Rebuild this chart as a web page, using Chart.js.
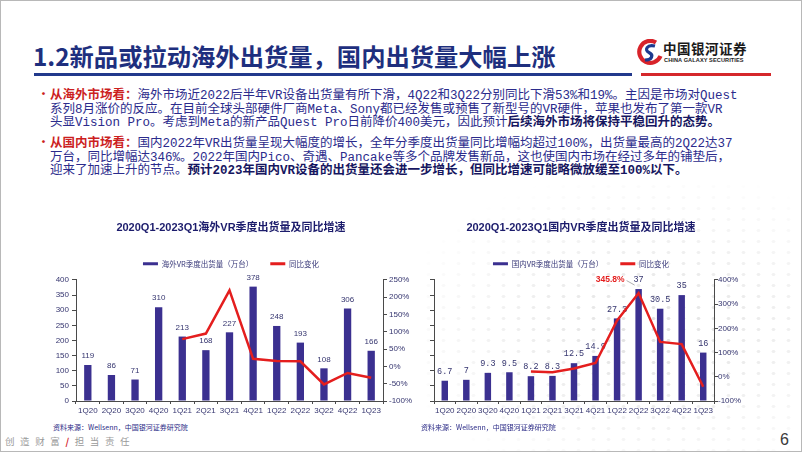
<!DOCTYPE html>
<html>
<head>
<meta charset="utf-8">
<script src="https://cdn.jsdelivr.net/npm/chart.js@4.4.0/dist/chart.umd.min.js"></script>
<style>
  html, body { margin: 0; padding: 0; background: #fff; }
  #slide {
    position: relative; width: 802px; height: 452px; box-sizing: border-box;
    border: 1px solid #b8b8b8; overflow: hidden; background: #fff;
    font-family: "Noto Sans CJK SC", "Noto Sans", sans-serif;
  }
  .abs { position: absolute; }
  #title { left: 32px; top: 41px; font-size: 24.3px; line-height: 27px; font-weight: 700; color: #1e2f7e; white-space: nowrap; }
  #rule-blue { left: 33px; top: 72px; width: 598px; height: 3px; background: #22398c; }
  #rule-red { left: 640px; top: 72px; width: 130px; height: 3px; background: #d5282b; }
  #logo-cn { left: 662px; top: 39px; font-size: 13.5px; line-height: 16px; font-weight: 700; color: #1a1a1a; letter-spacing: 0.5px; }
  #logo-en { left: 663px; top: 56px; font-family: "Liberation Sans", sans-serif; font-size: 5.6px; font-weight: 700; color: #1a1a1a; letter-spacing: 0.1px; }
  .para { left: 49px; font-family: "Liberation Mono", "Noto Sans CJK SC", monospace; font-size: 12.5px; line-height: 13.5px; color: #2b2b8c; white-space: nowrap; }
  .para b { color: #161660; }
  .para .lead { color: #cc1f1f; font-weight: 700; font-family: "Noto Sans CJK SC", sans-serif; }
  .dot { left: 37px; color: #cc1f1f; font-size: 11px; line-height: 13.5px; font-weight: 700; }
  .src { font-size: 7px; line-height: 9px; color: #2a2a86; white-space: nowrap; }
  #footer { left: 4px; top: 434px; font-size: 9.5px; line-height: 12px; color: #9a9a9a; letter-spacing: 5.6px; white-space: nowrap; }
  #footer i { color: #d3222a; font-style: normal; font-weight: 700; }
  #page { left: 779px; top: 430px; font-family: "Liberation Sans", sans-serif; font-size: 16px; color: #3a3a3a; }
  #dots {
    left: 420px; top: 180px; width: 382px; height: 272px;
    background-image: radial-gradient(ellipse 3px 2px at center, #d8d8d8 55%, transparent 75%);
    background-size: 15px 11px;
    -webkit-mask-image: radial-gradient(ellipse 70% 60% at 60% 55%, rgba(0,0,0,0.8), rgba(0,0,0,0) 100%);
    mask-image: radial-gradient(ellipse 70% 60% at 60% 55%, rgba(0,0,0,0.8), rgba(0,0,0,0) 100%);
  }
  canvas { position: absolute; }
</style>
</head>
<body>
<div id="slide">
  <div id="dots" class="abs"></div>

  <div id="title" class="abs">1.2新品或拉动海外出货量，国内出货量大幅上涨</div>
  <div id="rule-blue" class="abs"></div>
  <div id="rule-red" class="abs"></div>
  <svg class="abs" style="left:636px;top:38px" width="26" height="27" viewBox="0 0 26 27">
    <path d="M19 3.5 A11 11 0 1 0 23.5 17" fill="none" stroke="#d8232a" stroke-width="4.2"/>
    <path d="M18 7 C10 5 7 11 12 13.5 C17 16 15 21 8 21" fill="none" stroke="#1d3a8f" stroke-width="3.2"/>
  </svg>
  <div id="logo-cn" class="abs">中国银河证券</div>
  <div id="logo-en" class="abs">CHINA GALAXY SECURITIES</div>

  <div class="abs dot" style="top:86px">•</div>
  <div class="abs para" style="top:86px">
    <span class="lead">从海外市场看：</span>海外市场近2022后半年VR设备出货量有所下滑，4Q22和3Q22分别同比下滑53%和19%。主因是市场对Quest<br>
    系列8月涨价的反应。在目前全球头部硬件厂商Meta、Sony都已经发售或预售了新型号的VR硬件，苹果也发布了第一款VR<br>
    头显Vision Pro。考虑到Meta的新产品Quest Pro日前降价400美元，因此预计<b>后续海外市场将保持平稳回升的态势。</b>
  </div>
  <div class="abs dot" style="top:134px">•</div>
  <div class="abs para" style="top:134px">
    <span class="lead">从国内市场看：</span>国内2022年VR出货量呈现大幅度的增长，全年分季度出货量同比增幅均超过100%，出货量最高的2Q22达37<br>
    万台，同比增幅达346%。2022年国内Pico、奇遇、Pancake等多个品牌发售新品，这也使国内市场在经过多年的铺垫后，<br>
    迎来了加速上升的节点。<b>预计2023年国内VR设备的出货量还会进一步增长，但同比增速可能略微放缓至100%以下。</b>
  </div>

  <canvas id="overseas" width="410" height="209" style="left:25px;top:210px"></canvas>
  <canvas id="domestic" width="360" height="209" style="left:400px;top:210px"></canvas>

  <div class="abs src" style="left:52px;top:422px">资料来源：Wellsenn，中国银河证券研究院</div>
  <div class="abs src" style="left:420px;top:422px">资料来源：Wellsenn，中国银河证券研究院</div>

  <div id="footer" class="abs">创造财富<i>/</i>担当责任</div>
  <div id="page" class="abs">6</div>
</div>

<script>
// data
const quarters = ['1Q20', '2Q20', '3Q20', '4Q20', '1Q21', '2Q21', '3Q21', '4Q21', '1Q22', '2Q22', '3Q22', '4Q22', '1Q23'];
const overseasShipments = [119, 86, 71, 310, 213, 168, 227, 378, 248, 193, 108, 306, 166];
const overseasYoY = [null, null, null, null, 79, 95, 220, 22, 16, 15, -52, -19, -33];
const domesticShipments = [6.7, 7, 9.3, 9.5, 8.2, 8.3, 12.5, 14.9, 27.3, 37, 30.5, 35, 16];
const domesticYoY = [null, null, null, null, 22, 19, 34, 57, 233, 345.8, 144, 135, -41];
const domesticPeakIndex = 9;
const domesticPeakText = '345.8%';

const barColor = '#3b3090';
const lineColor = '#e41e1e';
const axisColor = '#4a4a4a';
const tickColor = '#35356f';
const titleColor = '#1c1c6c';

Chart.defaults.font.family = '"Liberation Sans", "Noto Sans CJK SC", sans-serif';

function valueLabels(font) {
    return {
        id: 'valueLabels',
        beforeDatasetsDraw(chart) {
            const ctx = chart.ctx;
            const meta = chart.getDatasetMeta(0);
            const values = chart.data.datasets[0].data;
            ctx.save();
            ctx.font = font;
            ctx.fillStyle = tickColor;
            ctx.textAlign = 'center';
            ctx.textBaseline = 'middle';
            meta.data.forEach((bar, i) => {
                ctx.fillText(String(values[i]), bar.x, bar.y - 9);
            });
            ctx.restore();
        }
    };
}

const peakLabel = {
    id: 'peakLabel',
    afterDatasetsDraw(chart) {
        const pt = chart.getDatasetMeta(1).data[domesticPeakIndex];
        const ctx = chart.ctx;
        ctx.save();
        ctx.strokeStyle = '#9a9a9a';
        ctx.lineWidth = 0.8;
        ctx.beginPath();
        ctx.moveTo(pt.x - 12, pt.y - 12.5);
        ctx.lineTo(pt.x - 4, pt.y - 8);
        ctx.stroke();
        ctx.font = 'bold 8.5px "Liberation Sans", sans-serif';
        ctx.fillStyle = lineColor;
        ctx.textAlign = 'right';
        ctx.textBaseline = 'middle';
        ctx.fillText(domesticPeakText, pt.x - 14, pt.y - 13);
        ctx.restore();
    }
};

function legendLabels(chart) {
    return Chart.defaults.plugins.legend.labels.generateLabels(chart)
        .sort((a, b) => a.datasetIndex - b.datasetIndex)
        .map(item => Object.assign(item, { lineWidth: 0 }));
}

function makeChart(canvas, o) {
    return new Chart(canvas, {
        type: 'bar',
        data: {
            labels: quarters,
            datasets: [
                {
                    label: o.barLabel,
                    data: o.bars,
                    backgroundColor: barColor,
                    barPercentage: o.barPct,
                    categoryPercentage: 0.5,
                    yAxisID: 'y',
                    order: 1
                },
                {
                    type: 'line',
                    label: '同比变化',
                    data: o.yoy,
                    borderColor: lineColor,
                    backgroundColor: lineColor,
                    borderWidth: 2.5,
                    pointRadius: 0,
                    tension: 0,
                    yAxisID: 'y1',
                    order: 0
                }
            ]
        },
        options: {
            responsive: false,
            animation: false,
            events: [],
            layout: { padding: 0 },
            plugins: {
                title: {
                    display: true,
                    text: o.title,
                    color: titleColor,
                    font: { size: 11, weight: 'bold' },
                    padding: { top: 10, bottom: 8.75 }
                },
                // thin spacer between legend and plot
                subtitle: { display: true, text: ' ', weight: 500, font: { size: 2.1 }, padding: 0 },
                legend: {
                    position: 'top',
                    labels: {
                        boxWidth: 15,
                        boxHeight: 3,
                        padding: 17,
                        color: '#3a3a7a',
                        font: { size: 7.5, family: '"Noto Sans CJK SC", sans-serif' },
                        generateLabels: legendLabels
                    }
                },
                tooltip: { enabled: false }
            },
            scales: {
                x: {
                    grid: { drawOnChartArea: false, tickLength: 3, color: axisColor, offset: true },
                    border: { color: axisColor },
                    ticks: { color: tickColor, font: { size: 8 }, padding: 2, maxRotation: 0, autoSkip: false },
                    afterFit: s => { s.height = 19; }
                },
                y: {
                    position: 'left',
                    min: 0,
                    max: o.leftMax,
                    grid: { drawOnChartArea: false, tickLength: 4, color: axisColor },
                    border: { color: axisColor },
                    ticks: { display: o.leftLabels, stepSize: o.leftStep, color: tickColor, font: { size: 8 }, padding: 3 },
                    afterFit: s => { s.width = o.leftWidth; }
                },
                y1: {
                    position: 'right',
                    min: -100,
                    max: o.rightMax,
                    grid: { drawOnChartArea: false, tickLength: 4, color: axisColor },
                    border: { color: axisColor },
                    ticks: { stepSize: 50, color: tickColor, font: { size: 8 }, padding: o.rightPad, callback: v => v + '%' },
                    afterFit: s => { s.width = o.rightWidth; }
                }
            }
        },
        plugins: o.plugins
    });
}

makeChart(document.getElementById('overseas'), {
    title: '2020Q1-2023Q1海外VR季度出货量及同比增速',
    barLabel: '海外VR季度出货量（万台）',
    bars: overseasShipments,
    yoy: overseasYoY,
    barPct: 0.62,
    leftMax: 400,
    leftStep: 50,
    leftLabels: true,
    leftWidth: 50,
    rightMax: 250,
    rightWidth: 53,
    rightPad: 2,
    plugins: [valueLabels('8px "Liberation Sans", sans-serif')]
});

makeChart(document.getElementById('domestic'), {
    title: '2020Q1-2023Q1国内VR季度出货量及同比增速',
    barLabel: '国内VR季度出货量（万台）',
    bars: domesticShipments,
    yoy: domesticYoY,
    barPct: 0.6,
    leftMax: 40,
    leftStep: 5,
    leftLabels: false,
    leftWidth: 33,
    rightMax: 400,
    rightWidth: 47,
    rightPad: 0,
    plugins: [valueLabels('8.5px "Liberation Mono", monospace'), peakLabel]
});
</script>
</body>
</html>
